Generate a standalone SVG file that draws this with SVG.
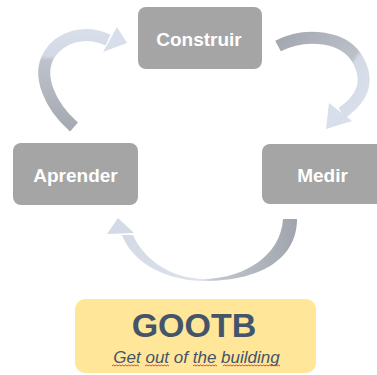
<svg xmlns="http://www.w3.org/2000/svg" width="377" height="375" viewBox="0 0 377 375">
<defs>
<style>
.box{fill:#A5A5A5}
.lbl{font-family:"Liberation Sans",Arial,sans-serif;font-weight:bold;font-size:19px;fill:#FFFFFF;text-anchor:middle}
.wave{fill:none;stroke:#E03030;stroke-width:0.9}
</style>
<linearGradient id="g1" gradientUnits="userSpaceOnUse" x1="0" y1="128" x2="0" y2="28">
<stop offset="0" stop-color="#A4A9B2"/>
<stop offset="0.68" stop-color="#BEC3CB"/>
<stop offset="0.72" stop-color="#D3DAE5"/>
<stop offset="1" stop-color="#D8DFEA"/>
</linearGradient>
<linearGradient id="g2" gradientUnits="userSpaceOnUse" x1="278" y1="40" x2="360" y2="100">
<stop offset="0" stop-color="#A2A7B0"/>
<stop offset="0.7" stop-color="#BCC1C9"/>
<stop offset="0.74" stop-color="#D3DAE5"/>
<stop offset="1" stop-color="#D8DFEA"/>
</linearGradient>
<linearGradient id="g3" gradientUnits="userSpaceOnUse" x1="297" y1="0" x2="110" y2="0">
<stop offset="0" stop-color="#9FA4AD"/>
<stop offset="0.45" stop-color="#C4C9D1"/>
<stop offset="0.5" stop-color="#DDE2EA"/>
<stop offset="1" stop-color="#D3DAE5"/>
</linearGradient>
</defs>
<g id="connectors">
<g id="arrow-aprender-construir">
<path d="M74,127 C49,105 37,75 49,55 C60,37 85,29 108,40" fill="none" stroke="url(#g1)" stroke-width="12"/>
<polygon points="117,27 127,43 103,52" fill="#D8DFEA"/>
</g>
<g id="arrow-construir-medir">
<path d="M278,46 C305,32 346,35 359,62 C369,82 363,98 342,113" fill="none" stroke="url(#g2)" stroke-width="12"/>
<polygon points="329,103 352,121 326,129" fill="#D8DFEA"/>
</g>
<g id="arrow-medir-aprender">
<path d="M297,219 C297,262 255,281 205,281 C165,281 132,262 122,235 L133,235 C143,258 170,279 205,279 C245,278 281,255 283,219 Z" fill="url(#g3)"/>
<polygon points="107,234 118,218 134,233" fill="#D3DAE5"/>
</g>
</g>
<g id="node-construir">
<rect class="box" x="138" y="7" width="124" height="62" rx="8"/>
<text class="lbl" x="199" y="46">Construir</text>
</g>
<g id="node-aprender">
<rect class="box" x="13" y="143" width="125" height="62" rx="8"/>
<text class="lbl" x="75.5" y="181.5">Aprender</text>
</g>
<g id="node-medir">
<rect class="box" x="262" y="144" width="124" height="60" rx="8"/>
<text class="lbl" x="322.5" y="182">Medir</text>
</g>
<g id="node-gootb">
<rect x="75" y="299" width="241" height="74" rx="10" fill="#FFE699"/>
<text x="194" y="336.5" font-family="'Liberation Sans',Arial,sans-serif" font-weight="bold" font-size="34" fill="#44546A" text-anchor="middle">GOOTB</text>
<text x="196.5" y="362.5" font-family="'Liberation Sans',Arial,sans-serif" font-style="italic" font-size="17" fill="#44546A" text-anchor="middle">Get out of the building</text>
<path class="wave" d="M112,366 l1.5,-1 l1.5,1 l1.5,-1 l1.5,1 l1.5,-1 l1.5,1 l1.5,-1 l1.5,1 l1.5,-1 l1.5,1 l1.5,-1 l1.5,1 l1.5,-1 l1.5,1 l1.5,-1 l1.5,1 l1.5,-1 l1.5,1"/>
<path class="wave" d="M145,366 l1.5,-1 l1.5,1 l1.5,-1 l1.5,1 l1.5,-1 l1.5,1 l1.5,-1 l1.5,1 l1.5,-1 l1.5,1 l1.5,-1 l1.5,1 l1.5,-1 l1.5,1 l1.5,-1 l1.5,1"/>
<path class="wave" d="M193,366 l1.5,-1 l1.5,1 l1.5,-1 l1.5,1 l1.5,-1 l1.5,1 l1.5,-1 l1.5,1 l1.5,-1 l1.5,1 l1.5,-1 l1.5,1 l1.5,-1 l1.5,1 l1.5,-1 l1.5,1"/>
<path class="wave" d="M223,366 l1.5,-1 l1.5,1 l1.5,-1 l1.5,1 l1.5,-1 l1.5,1 l1.5,-1 l1.5,1 l1.5,-1 l1.5,1 l1.5,-1 l1.5,1 l1.5,-1 l1.5,1 l1.5,-1 l1.5,1 l1.5,-1 l1.5,1 l1.5,-1 l1.5,1 l1.5,-1 l1.5,1 l1.5,-1 l1.5,1 l1.5,-1 l1.5,1 l1.5,-1 l1.5,1 l1.5,-1 l1.5,1 l1.5,-1 l1.5,1 l1.5,-1 l1.5,1 l1.5,-1 l1.5,1 l1.5,-1 l1.5,1"/>
</g>
</svg>
